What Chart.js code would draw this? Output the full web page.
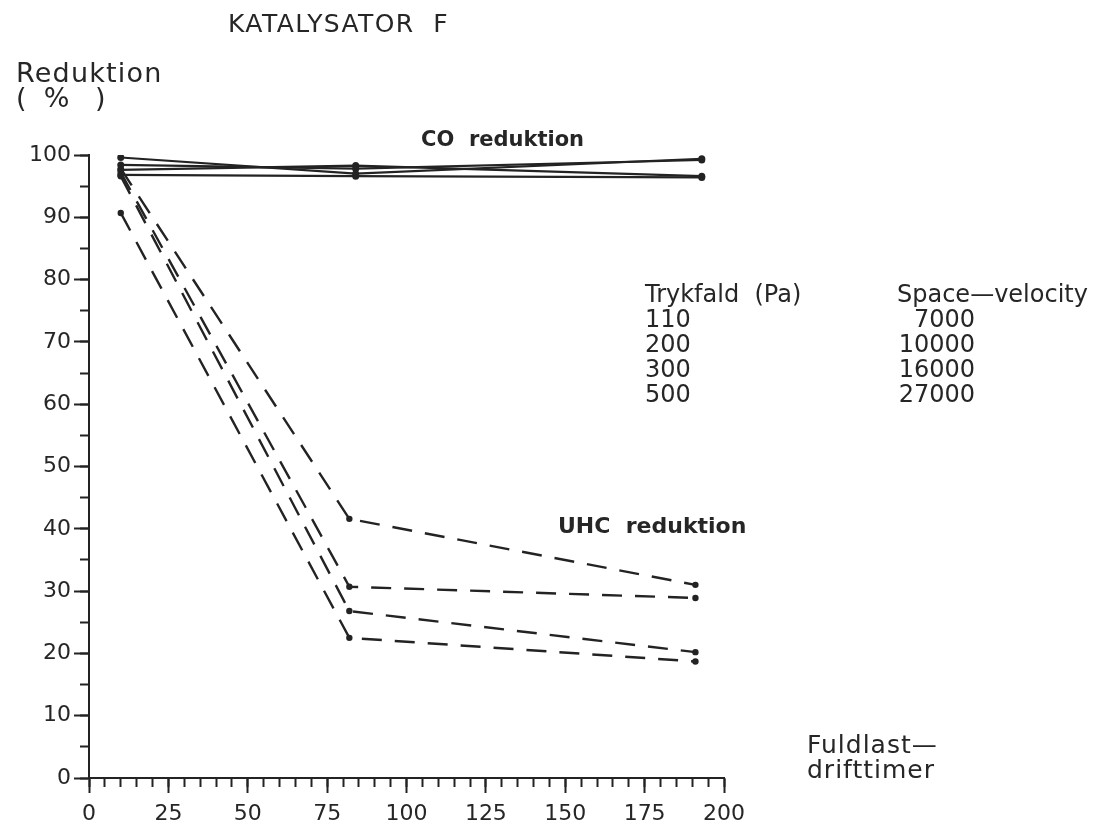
<!DOCTYPE html>
<html>
<head>
<meta charset="utf-8">
<script src="https://cdn.jsdelivr.net/npm/chart.js@4.4.1/dist/chart.umd.min.js"></script>
<style>
  html, body { margin: 0; padding: 0; background: #ffffff; }
  #wrap { position: relative; width: 1102px; height: 835px; overflow: hidden; }
  #c { position: absolute; left: 0; top: 0; }
  .t { position: absolute; font-family: 'DejaVu Sans', sans-serif; color: #262626; white-space: pre; line-height: 1; }
</style>
</head>
<body>
<div id="wrap">
  <canvas id="c" width="1102" height="835"></canvas>
  <div class="t" style="left:228px; top:11px; font-size:25px; letter-spacing:1.4px;">KATALYSATOR  F</div>
  <div class="t" style="left:16px; top:59px; font-size:27px; letter-spacing:1.2px;">Reduktion</div>
  <div class="t" style="left:16px; top:84px; font-size:27px;">(  %   )</div>
  <div class="t" style="left:421px; top:129px; font-size:21px; font-weight:bold;">CO  reduktion</div>
  <div class="t" style="left:558px; top:515px; font-size:22px; font-weight:bold;">UHC  reduktion</div>
  <div class="t" style="left:645px; top:282px; font-size:24px; line-height:25px;">Trykfald  (Pa)
110
200
300
500</div>
  <div class="t" style="left:897px; top:282px; font-size:24px; line-height:25px;">Space—velocity</div>
  <div class="t" style="left:875px; top:307px; width:100px; text-align:right; font-size:24px; line-height:25px;">7000
10000
16000
27000</div>
  <div class="t" style="left:807px; top:732px; font-size:25px; line-height:25px; letter-spacing:1px;">Fuldlast—
drifttimer</div>
</div>
<script>
// ---- data ----
const hoursCO  = [10, 84, 193];
const hoursUHC = [10, 82, 191];

const co1 = [99.6, 97.0, 99.4];
const co2 = [98.4, 97.8, 99.2];
const co3 = [97.6, 98.3, 96.6];
const co4 = [96.8, 96.6, 96.4];

const uhc1 = [97.8, 41.6, 31.0];
const uhc2 = [97.2, 30.7, 28.9];
const uhc3 = [96.6, 26.8, 20.2];
const uhc4 = [90.7, 22.5, 18.7];

const xTickValues = [0, 25, 50, 75, 100, 125, 150, 175, 200];
const yTickValues = [0, 10, 20, 30, 40, 50, 60, 70, 80, 90, 100];

const INK = '#232323';
const FONT = { family: 'DejaVu Sans', size: 22 };

function pts(xs, ys) { return xs.map((x, i) => ({ x: x, y: ys[i] })); }

function coSet(ys) {
  return {
    data: pts(hoursCO, ys), borderColor: INK, backgroundColor: INK,
    borderWidth: 2.2, pointRadius: 3.5, pointBorderWidth: 0, tension: 0,
    xAxisID: 'x', yAxisID: 'y'
  };
}
function uhcSet(ys) {
  return {
    data: pts(hoursUHC, ys), borderColor: INK, backgroundColor: INK,
    borderWidth: 2.4, borderDash: [20, 13], pointRadius: 3.2, pointBorderWidth: 0, tension: 0,
    xAxisID: 'x', yAxisID: 'y'
  };
}

const datasets = [co1, co2, co3, co4].map(coSet).concat([uhc1, uhc2, uhc3, uhc4].map(uhcSet));

new Chart(document.getElementById('c'), {
  type: 'line',
  data: { datasets: datasets },
  options: {
    responsive: false,
    animation: false,
    layout: { padding: { left: 0, top: 155, right: 378, bottom: 0 } },
    plugins: { legend: { display: false }, tooltip: { enabled: false }, title: { display: false } },
    scales: {
      x: {
        type: 'linear', position: 'bottom', min: 0, max: 200, weight: 1,
        afterBuildTicks: s => { s.ticks = xTickValues.map(v => ({ value: v })); },
        afterFit: s => { s.height = 57; },
        border: { display: true, color: INK, width: 2 },
        grid: { display: true, drawOnChartArea: false, drawTicks: true, tickLength: 15, tickColor: INK, tickWidth: 2 },
        ticks: { color: '#262626', font: FONT, padding: 8, maxRotation: 0, autoSkip: false }
      },
      xMinor: {
        type: 'linear', position: 'bottom', min: 0, max: 200, weight: 0,
        ticks: { stepSize: 5, display: false, autoSkip: false },
        afterFit: s => { s.height = 0; },
        border: { display: false },
        grid: { display: true, drawOnChartArea: false, drawTicks: true, tickLength: 9, tickColor: INK, tickWidth: 2 }
      },
      y: {
        type: 'linear', position: 'left', min: 0, max: 100, weight: 1,
        afterBuildTicks: s => { s.ticks = yTickValues.map(v => ({ value: v })); },
        afterFit: s => { s.width = 89; },
        border: { display: true, color: INK, width: 2 },
        grid: { display: true, drawOnChartArea: false, drawTicks: true, tickLength: 15, tickColor: INK, tickWidth: 2 },
        ticks: { color: '#262626', font: FONT, padding: 3, autoSkip: false }
      },
      yMinor: {
        type: 'linear', position: 'left', min: 0, max: 100, weight: 0,
        ticks: { stepSize: 5, display: false, autoSkip: false },
        afterFit: s => { s.width = 0; },
        border: { display: false },
        grid: { display: true, drawOnChartArea: false, drawTicks: true, tickLength: 9, tickColor: INK, tickWidth: 2 }
      }
    }
  }
});
</script>
</body>
</html>
